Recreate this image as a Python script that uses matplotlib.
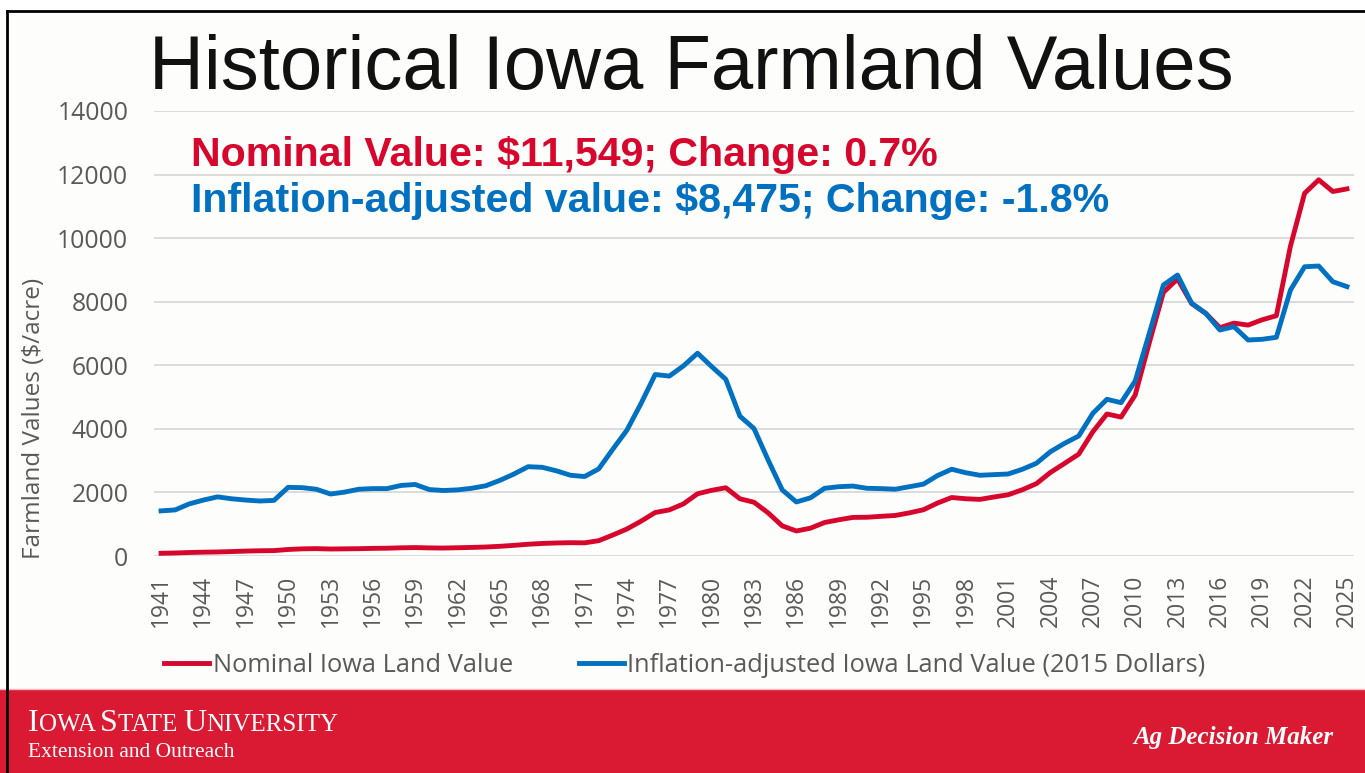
import matplotlib
matplotlib.use("Agg")
import matplotlib.pyplot as plt
from matplotlib.lines import Line2D
from matplotlib.patches import Rectangle
from matplotlib.offsetbox import TextArea, HPacker, AnchoredOffsetbox

# data
years = list(range(1941, 2026))

nominal = [
    85, 95, 110, 120, 127, 140, 155, 165, 170, 205,
    225, 232, 220, 225, 230, 240, 245, 258, 265, 255,
    250, 260, 270, 283, 305, 335, 370, 395, 410, 419,
    414, 482, 660, 850, 1095, 1368, 1450, 1639, 1958, 2066,
    2147, 1801, 1691, 1357, 948, 787, 875, 1054, 1139, 1214,
    1219, 1249, 1275, 1356, 1455, 1666, 1840, 1801, 1781, 1857,
    1926, 2083, 2275, 2629, 2914, 3204, 3908, 4468, 4371, 5064,
    6708, 8296, 8716, 7943, 7633, 7183, 7326, 7264, 7432, 7559,
    9751, 11411, 11835, 11467, 11549,
]

adjusted = [
    1420, 1450, 1640, 1760, 1860, 1800, 1760, 1730, 1750, 2160,
    2150, 2100, 1950, 2010, 2100, 2120, 2120, 2220, 2250, 2090,
    2060, 2080, 2130, 2210, 2380, 2580, 2810, 2790, 2680, 2540,
    2500, 2740, 3360, 3960, 4800, 5710, 5660, 5980, 6380, 5960,
    5560, 4400, 4010, 3020, 2080, 1700, 1830, 2130, 2180, 2200,
    2130, 2120, 2100, 2180, 2260, 2530, 2730, 2620, 2540, 2560,
    2580, 2727, 2915, 3282, 3545, 3775, 4488, 4930, 4824, 5505,
    7005, 8526, 8840, 7950, 7635, 7110, 7215, 6795, 6818, 6880,
    8368, 9100, 9123, 8630, 8475,
]

x_ticks = list(range(1941, 2026, 3))
y_ticks = list(range(0, 14001, 2000))

RED = '#d7062c'
BLUE = '#0070c0'
GRAY = '#595959'
BAND = '#da1a32'

W, H = 1365, 773
fig = plt.figure(figsize=(W / 100, H / 100), dpi=100)
fig.patch.set_facecolor('white')
fig.add_artist(Rectangle((6 / W, 0), 1, 1 - 10 / H, transform=fig.transFigure,
                         facecolor='#fdfdfb', edgecolor='none', zorder=-5))

ax = fig.add_axes([154 / W, (H - 556) / H, 1200 / W, 445 / H])
ax.set_facecolor('none')

ax.plot(years, nominal, color=RED, lw=3.5, solid_joinstyle='round',
        label='Nominal Iowa Land Value', zorder=3)
ax.plot(years, adjusted, color=BLUE, lw=3.5, solid_joinstyle='round',
        label='Inflation-adjusted Iowa Land Value (2015 Dollars)', zorder=4)

ax.set_xlim(1940.5, 2025.5)
ax.set_ylim(0, 14000)
ax.set_xticks(x_ticks)
ax.set_xticklabels([str(y) for y in x_ticks], rotation=90, va='top')
ax.set_yticks(y_ticks)
ax.yaxis.grid(True, color='#d9d9d9', lw=1.3)
ax.set_axisbelow(True)
for s in ax.spines.values():
    s.set_visible(False)
ax.tick_params(axis='both', length=0, colors=GRAY)
ax.tick_params(axis='y', pad=18.5)
ax.tick_params(axis='x', pad=13.5)
for lab in ax.get_yticklabels():
    lab.set_fontfamily('Open Sans')
    lab.set_fontsize(17.8)
for lab in ax.get_xticklabels():
    lab.set_fontfamily('Open Sans')
    lab.set_fontsize(16.5)

fig.text(34 / W, 1 - 418 / H, 'Farmland Values ($/acre)', rotation=90,
         ha='center', va='center', fontsize=17.5, color=GRAY, family='Open Sans')

# title and headline numbers
fig.text(691 / W, 1 - 89 / H, 'Historical Iowa Farmland Values', ha='center',
         va='baseline', fontsize=54.7, color='#111111', family='Liberation Sans')
fig.text(191 / W, 1 - 166 / H, 'Nominal Value: $11,549; Change: 0.7%',
         ha='left', va='baseline', fontsize=29.6, fontweight='bold', color=RED,
         family='Liberation Sans')
fig.text(191 / W, 1 - 212 / H, 'Inflation-adjusted value: $8,475; Change: -1.8%',
         ha='left', va='baseline', fontsize=29.6, fontweight='bold', color=BLUE,
         family='Liberation Sans')

leg = fig.legend(loc='center', bbox_to_anchor=(685 / W, 1 - 665 / H), ncol=2,
                 frameon=False, handlelength=1.75, handletextpad=0.15,
                 columnspacing=2.6, prop={'family': 'Open Sans', 'size': 18.3},
                 labelcolor=GRAY)

# footer band
fig.add_artist(Rectangle((0, 0), 1, 83 / H, transform=fig.transFigure,
                         facecolor=BAND, edgecolor='none', zorder=1))
fig.add_artist(Line2D([0, 1], [84 / H, 84 / H], transform=fig.transFigure,
                      color='#f0b8c0', lw=1, zorder=1))

big = dict(color='white', family='Liberation Serif', size=23)
small = dict(color='white', family='Liberation Serif', size=18)
parts = [('I', big), ('OWA ', small), ('S', big), ('TATE ', small),
         ('U', big), ('NIVERSITY', small)]
pack = HPacker(children=[TextArea(t, textprops=p) for t, p in parts],
               align='baseline', pad=0, sep=0)
box = AnchoredOffsetbox(loc='lower left', child=pack, pad=0, borderpad=0,
                        frameon=False, bbox_to_anchor=(28 / W, 1 - 738 / H),
                        bbox_transform=fig.transFigure)
box.set_zorder(2)
fig.add_artist(box)
fig.text(28 / W, 1 - 757 / H, 'Extension and Outreach', ha='left',
         va='baseline', fontsize=15.5, color='white', family='Liberation Serif',
         zorder=2)
fig.text(1333 / W, 1 - 744 / H, 'Ag Decision Maker', ha='right', va='baseline',
         fontsize=18, color='white', family='Liberation Serif',
         fontweight='bold', fontstyle='italic', zorder=2)

# slide frame (left and top edges)
fig.add_artist(Line2D([6.5 / W, 6.5 / W], [0, 1 - 10.5 / H],
                      transform=fig.transFigure, color='black', lw=2, zorder=3))
fig.add_artist(Line2D([6.5 / W, 1], [1 - 10.5 / H, 1 - 10.5 / H],
                      transform=fig.transFigure, color='black', lw=2, zorder=3))

fig.savefig('out.png', dpi=100)
